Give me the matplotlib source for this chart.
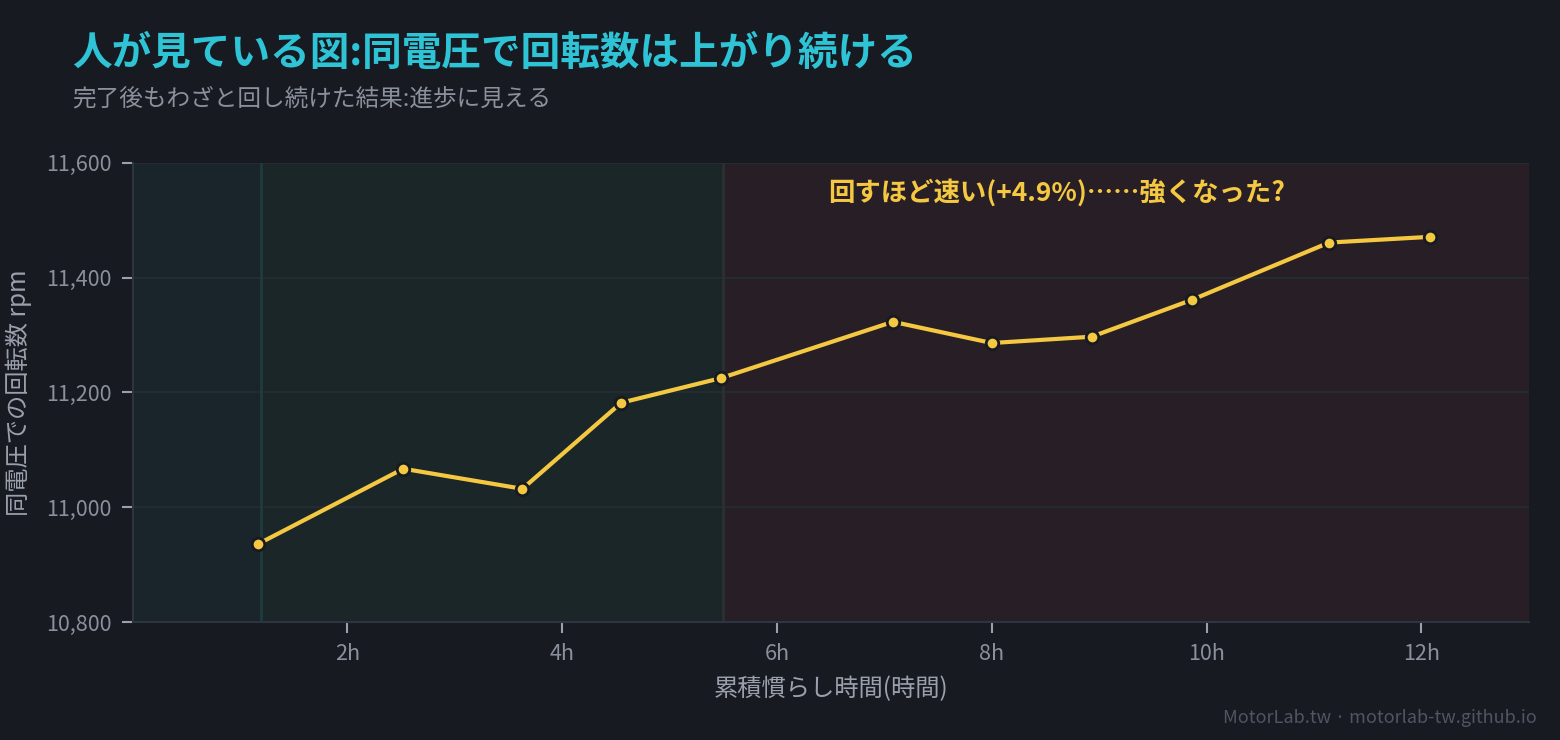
#!/usr/bin/env python3
"""Break-in hours vs. rpm at equal voltage (dark theme)."""

import matplotlib.pyplot as plt

hours = [1.17, 2.52, 3.63, 4.55, 5.48, 7.08, 8.0, 8.93, 9.86, 11.14, 12.08]
rpm = [10936, 11067, 11032, 11182, 11225, 11323, 11286, 11297, 11361, 11461, 11471]
x_ticks = [2, 4, 6, 8, 10, 12]
y_ticks = [10800, 11000, 11200, 11400, 11600]
phase_edges = [0, 1.2, 5.5, 13]
phase_colors = ["#19242b", "#1b2628", "#281f26"]

BG = "#171a21"
YELLOW = "#f5c842"
CYAN = "#2ec4d6"
MUTED = "#8a909c"

plt.rcParams["font.family"] = ["Noto Sans CJK JP", "DejaVu Sans"]

fig = plt.figure(figsize=(15.6, 7.4), dpi=100, facecolor=BG)
ax = fig.add_axes([0.085, 0.1595, 0.895, 0.6205])
ax.set_facecolor(BG)

for start, end, color in zip(phase_edges[:-1], phase_edges[1:], phase_colors):
    ax.axvspan(start, end, color=color, lw=0, zorder=0)
ax.axvline(phase_edges[1], color="#1f3c3b", lw=2, zorder=1)
ax.axvline(phase_edges[2], color="#2c3030", lw=2, zorder=1)

ax.plot(hours, rpm, color=YELLOW, lw=3, zorder=3,
        marker="o", markersize=9, markerfacecolor=YELLOW,
        markeredgecolor=BG, markeredgewidth=2)

ax.text(8.6, 11548, "回すほど速い(+4.9%)……強くなった?", color=YELLOW,
        fontsize=19, fontweight="bold", ha="center", va="center", zorder=4)

ax.set_xlim(0, 13)
ax.set_ylim(10800, 11600)
ax.set_xticks(x_ticks, [f"{h}h" for h in x_ticks])
ax.set_yticks(y_ticks, [f"{v:,}" for v in y_ticks])
ax.grid(axis="y", color="#262b33", lw=1.5, zorder=1)
ax.set_axisbelow(True)
ax.tick_params(colors="#9aa0ac", labelcolor=MUTED, labelsize=15.5,
               length=8, width=1.5, pad=7)
for side in ("top", "right"):
    ax.spines[side].set_visible(False)
for side in ("left", "bottom"):
    ax.spines[side].set_color("#2e3540")
    ax.spines[side].set_linewidth(1.5)

ax.set_xlabel("累積慣らし時間(時間)", color="#9aa0ac", fontsize=17.5, labelpad=8)
ax.set_ylabel("同電圧での回転数 rpm", color="#9aa0ac", fontsize=17.5, labelpad=10)

fig.text(0.046, 0.928, "人が見ている図:同電圧で回転数は上がり続ける",
         color=CYAN, fontsize=28.5, fontweight="bold", va="center")
fig.text(0.046, 0.866, "完了後もわざと回し続けた結果:進歩に見える",
         color=MUTED, fontsize=17, va="center")
fig.text(0.985, 0.03, "MotorLab.tw · motorlab-tw.github.io",
         color="#4f5562", fontsize=13, ha="right", va="center")

fig.savefig("out.png", dpi=100, facecolor=BG)
